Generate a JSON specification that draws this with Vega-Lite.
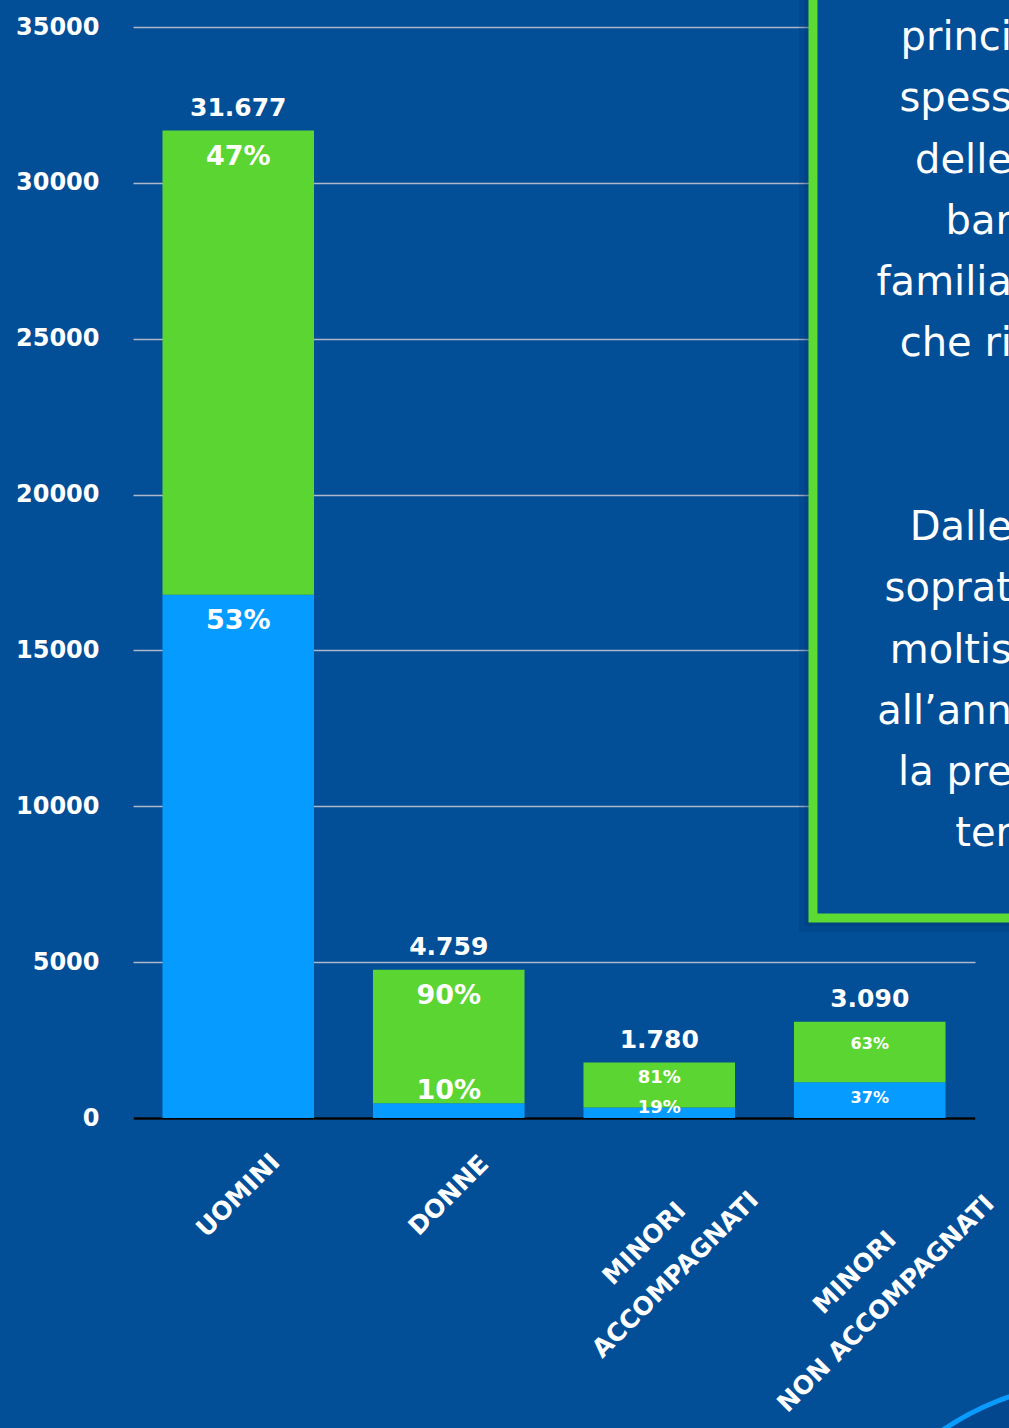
{
  "$schema": "https://vega.github.io/schema/vega-lite/v6.json",
  "width": 842,
  "height": 1091,
  "autosize": "none",
  "padding": {"left": 133, "top": 27, "right": 34, "bottom": 310},
  "background": "#024E97",
  "config": {
    "view": {"stroke": null},
    "locale": {"number": {"decimal": ",", "thousands": ".", "grouping": [3], "currency": ["€", ""]}}
  },
  "datasets": {
    "dati": [
      {"categoria": "UOMINI", "segmento": "azzurro", "valore": 16789, "quota": 0.53, "totale": 31677},
      {"categoria": "UOMINI", "segmento": "verde", "valore": 14888, "quota": 0.47, "totale": 31677},
      {"categoria": "DONNE", "segmento": "azzurro", "valore": 476, "quota": 0.10, "totale": 4759},
      {"categoria": "DONNE", "segmento": "verde", "valore": 4283, "quota": 0.90, "totale": 4759},
      {"categoria": "MINORI ACCOMPAGNATI", "segmento": "azzurro", "valore": 338, "quota": 0.19, "totale": 1780},
      {"categoria": "MINORI ACCOMPAGNATI", "segmento": "verde", "valore": 1442, "quota": 0.81, "totale": 1780},
      {"categoria": "MINORI NON ACCOMPAGNATI", "segmento": "azzurro", "valore": 1143, "quota": 0.37, "totale": 3090},
      {"categoria": "MINORI NON ACCOMPAGNATI", "segmento": "verde", "valore": 1947, "quota": 0.63, "totale": 3090}
    ]
  },
  "layer": [
    {
      "data": {"name": "dati"},
      "transform": [
        {"stack": "valore", "groupby": ["categoria"], "sort": [{"field": "segmento", "order": "ascending"}], "as": ["inizio", "fine"]}
      ],
      "encoding": {
        "x": {
          "field": "categoria",
          "type": "nominal",
          "sort": ["UOMINI", "DONNE", "MINORI ACCOMPAGNATI", "MINORI NON ACCOMPAGNATI"],
          "scale": {"paddingInner": 0.28, "paddingOuter": 0.14},
          "axis": {
            "title": null,
            "labelAngle": -45,
            "labelAlign": "center",
            "labelBaseline": "middle",
            "labelPadding": {
              "condition": [
                {"test": "datum.value == 'MINORI ACCOMPAGNATI'", "value": 125},
                {"test": "datum.value == 'MINORI NON ACCOMPAGNATI'", "value": 154}
              ],
              "value": 77
            },
            "labelOffset": {
              "condition": {"test": "indexof(datum.value, 'MINORI') == 0", "value": -15},
              "value": 0
            },
            "ticks": false,
            "tickSize": 0,
            "domainColor": "#000000",
            "domainWidth": 2.5,
            "labelColor": "#FFFFFF",
            "labelFont": "DejaVu Sans",
            "labelFontWeight": "bold",
            "labelFontSize": 25,
            "labelLineHeight": 44,
            "labelLimit": 0,
            "labelOverlap": false,
            "labelBound": false,
            "labelFlush": false,
            "labelExpr": "indexof(datum.value, 'MINORI') == 0 ? ['MINORI', slice(datum.value, 7)] : datum.value"
          }
        },
        "y": {
          "field": "fine",
          "type": "quantitative",
          "stack": null,
          "scale": {"domain": [0, 35000], "nice": false, "zero": true},
          "axis": {
            "title": null,
            "values": [0, 5000, 10000, 15000, 20000, 25000, 30000, 35000],
            "format": "d",
            "domain": false,
            "ticks": false,
            "labelPadding": 34,
            "labelColor": "#FFFFFF",
            "labelFont": "DejaVu Sans",
            "labelFontWeight": "bold",
            "labelFontSize": 24,
            "gridColor": "#AEB8C8",
            "gridWidth": 1.3
          }
        }
      },
      "layer": [
        {
          "mark": {"type": "bar"},
          "encoding": {
            "y2": {"field": "inizio"},
            "color": {
              "field": "segmento",
              "type": "nominal",
              "scale": {"domain": ["azzurro", "verde"], "range": ["#069CFF", "#5BD532"]},
              "legend": null
            }
          }
        },
        {
          "transform": [{"filter": "datum.segmento == 'verde'"}],
          "mark": {"type": "text", "baseline": "alphabetic", "dy": -15, "color": "#FFFFFF", "font": "DejaVu Sans", "fontWeight": "bold", "fontSize": 25},
          "encoding": {"text": {"field": "totale", "type": "quantitative", "format": ",d"}}
        },
        {
          "transform": [{"filter": "datum.categoria == 'UOMINI' || (datum.categoria == 'DONNE' && datum.segmento == 'verde')"}],
          "mark": {"type": "text", "baseline": "middle", "dy": 26, "color": "#FFFFFF", "font": "DejaVu Sans", "fontWeight": "bold", "fontSize": 27},
          "encoding": {"text": {"field": "quota", "type": "quantitative", "format": ".0%"}}
        },
        {
          "transform": [{"filter": "datum.categoria == 'DONNE' && datum.segmento == 'azzurro'"}],
          "mark": {"type": "text", "baseline": "middle", "dy": -12, "color": "#FFFFFF", "font": "DejaVu Sans", "fontWeight": "bold", "fontSize": 27},
          "encoding": {"text": {"field": "quota", "type": "quantitative", "format": ".0%"}}
        },
        {
          "transform": [{"filter": "datum.categoria == 'MINORI ACCOMPAGNATI' && datum.segmento == 'verde'"}],
          "mark": {"type": "text", "baseline": "middle", "dy": 15, "color": "#FFFFFF", "font": "DejaVu Sans", "fontWeight": "bold", "fontSize": 18},
          "encoding": {"text": {"field": "quota", "type": "quantitative", "format": ".0%"}}
        },
        {
          "transform": [{"filter": "datum.categoria == 'MINORI ACCOMPAGNATI' && datum.segmento == 'azzurro'"}],
          "mark": {"type": "text", "baseline": "middle", "dy": 1, "color": "#FFFFFF", "font": "DejaVu Sans", "fontWeight": "bold", "fontSize": 18},
          "encoding": {"text": {"field": "quota", "type": "quantitative", "format": ".0%"}}
        },
        {
          "transform": [{"filter": "datum.categoria == 'MINORI NON ACCOMPAGNATI' && datum.segmento == 'verde'"}],
          "mark": {"type": "text", "baseline": "middle", "dy": 22, "color": "#FFFFFF", "font": "DejaVu Sans", "fontWeight": "bold", "fontSize": 16},
          "encoding": {"text": {"field": "quota", "type": "quantitative", "format": ".0%"}}
        },
        {
          "transform": [{"filter": "datum.categoria == 'MINORI NON ACCOMPAGNATI' && datum.segmento == 'azzurro'"}],
          "mark": {"type": "text", "baseline": "middle", "dy": 16, "color": "#FFFFFF", "font": "DejaVu Sans", "fontWeight": "bold", "fontSize": 16},
          "encoding": {"text": {"field": "quota", "type": "quantitative", "format": ".0%"}}
        }
      ]
    },
    {
      "data": {"values": [{}]},
      "layer": [
        {
          "mark": {"type": "rect", "fill": "#012F62", "opacity": 0.15},
          "encoding": {
            "x": {"datum": 0.791, "type": "quantitative", "scale": {"domain": [0, 1], "nice": false, "zero": false}, "axis": null},
            "x2": {"datum": 1.3},
            "y": {"datum": 5967, "type": "quantitative", "axis": null},
            "y2": {"datum": 38000}
          }
        },
        {
          "mark": {"type": "rect", "fill": "#012F62", "opacity": 0.22},
          "encoding": {
            "x": {"datum": 0.7975, "type": "quantitative"},
            "x2": {"datum": 1.3},
            "y": {"datum": 6160, "type": "quantitative", "axis": null},
            "y2": {"datum": 38000}
          }
        },
        {
          "mark": {"type": "rect", "fill": "#024E97", "stroke": "#5CDB32", "strokeWidth": 9},
          "encoding": {
            "x": {"datum": 0.8076, "type": "quantitative"},
            "x2": {"datum": 1.3},
            "y": {"datum": 6416, "type": "quantitative", "axis": null},
            "y2": {"datum": 38000}
          }
        },
        {
          "mark": {
            "type": "text",
            "text": ["princi", "spess", "delle\u00a0", "bar", "familia", "che ri"],
            "align": "right",
            "baseline": "alphabetic",
            "font": "DejaVu Sans",
            "fontSize": 40,
            "lineHeight": 61.3,
            "color": "#FFFFFF"
          },
          "encoding": {
            "x": {"datum": 1.0439, "type": "quantitative"},
            "y": {"datum": 34263, "type": "quantitative", "axis": null}
          }
        },
        {
          "mark": {
            "type": "text",
            "text": ["Dalle\u00a0", "soprat", "moltis", "all’ann", "la pre", "ter"],
            "align": "right",
            "baseline": "alphabetic",
            "font": "DejaVu Sans",
            "fontSize": 40,
            "lineHeight": 61.3,
            "color": "#FFFFFF"
          },
          "encoding": {
            "x": {"datum": 1.0439, "type": "quantitative"},
            "y": {"datum": 18543, "type": "quantitative", "axis": null}
          }
        },
        {
          "mark": {"type": "point", "shape": "circle", "size": 300304, "fill": "#03488E", "stroke": "#0A9BFF", "strokeWidth": 5, "opacity": 1, "filled": true},
          "encoding": {
            "x": {"datum": 1.146, "type": "quantitative"},
            "y": {"datum": -17260, "type": "quantitative", "axis": null}
          }
        }
      ]
    }
  ],
  "resolve": {"scale": {"x": "independent"}, "axis": {"y": "independent"}}
}
